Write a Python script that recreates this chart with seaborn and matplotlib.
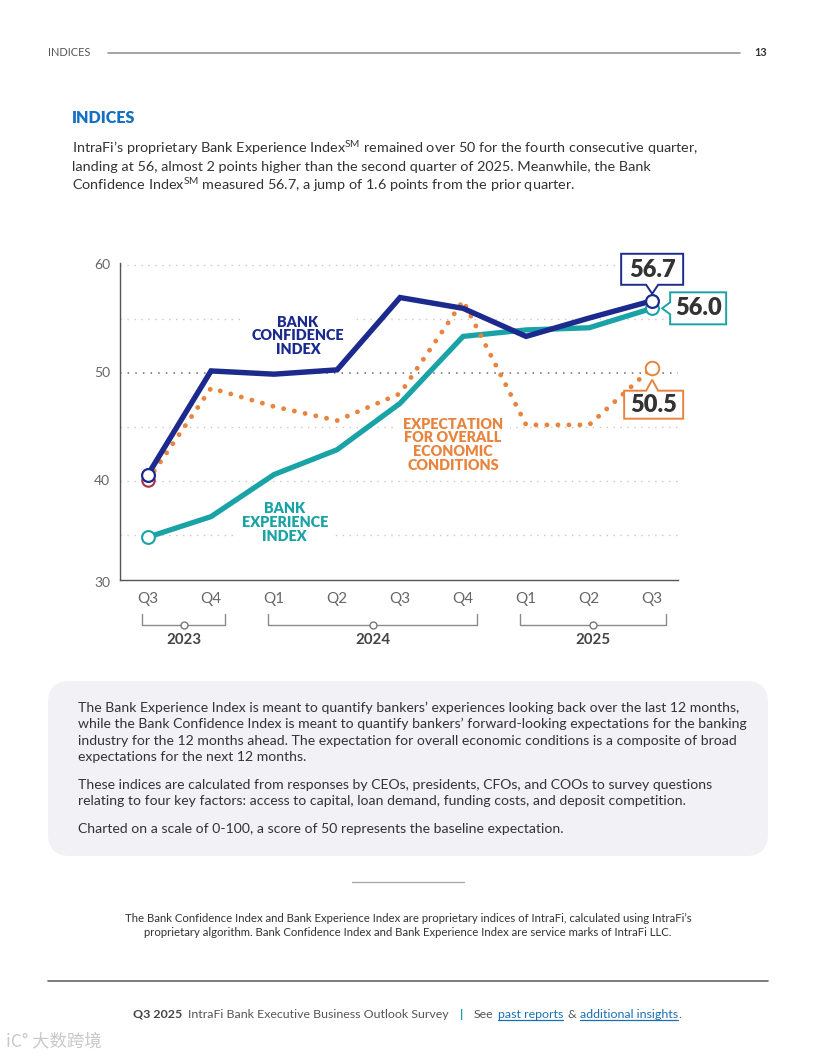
import numpy as np
import pandas as pd
import matplotlib
matplotlib.use("Agg")
import matplotlib.pyplot as plt
import seaborn as sns
from matplotlib.patches import Polygon, FancyBboxPatch
from matplotlib.transforms import IdentityTransform, blended_transform_factory

# ---------------- data ----------------
quarters = ["Q3", "Q4", "Q1", "Q2", "Q3", "Q4", "Q1", "Q2", "Q3"]
years = ["2023", "2024", "2025"]
year_first = [0, 2, 6]
year_last = [1, 5, 8]
bank_confidence = [40.6, 50.2, 49.9, 50.3, 57.0, 56.0, 53.4, 55.1, 56.7]
bank_experience = [34.8, 36.7, 40.6, 42.9, 47.2, 53.4, 54.0, 54.2, 56.0]
economic_expectation = [40.1, 48.6, 46.9, 45.6, 48.1, 56.7, 45.2, 45.2, 50.5]
y_ticks = [30, 40, 50, 60]

# ---------------- style ----------------
sns.set_theme(style="white")
FONT = ["Lato", "DejaVu Sans"]
plt.rcParams["font.family"] = FONT
plt.rcParams["mathtext.fontset"] = "custom"
plt.rcParams["mathtext.rm"] = "Lato"
plt.rcParams["mathtext.bf"] = "Lato:bold"

NAVY = "#1c2a8e"
TEAL = "#1aa3a6"
ORANGE = "#e8843e"
DARKRED = "#a8323f"
TXT = "#333333"
GRAY = "#555555"

W, H = 816, 1056
fig = plt.figure(figsize=(W / 100, H / 100), dpi=100)
fig.patch.set_facecolor("white")


def fx(px):
    return px / W


def fy(py):
    return 1 - py / H


AX_L, AX_R, AX_T, AX_B = 120, 678, 263, 580
ax = fig.add_axes([fx(AX_L), fy(AX_B), (AX_R - AX_L) / W, (AX_B - AX_T) / H])
ax.set_facecolor("white")

x = np.arange(len(quarters))
df = pd.DataFrame({"x": x, "bci": bank_confidence, "bei": bank_experience,
                   "exp": economic_expectation})

ax.set_xlim(-0.444, 8.41)
ax.set_ylim(30.83, 60.2)

# gridlines
for v in [35, 40, 45, 55, 60]:
    ax.axhline(v, color="#c9c9c9", lw=1.0, ls=(0, (1, 4)), zorder=1)
ax.axhline(50, color="#6a6a6a", lw=1.1, ls=(0, (1, 4)), zorder=1)

# lines
sns.lineplot(data=df, x="x", y="bei", ax=ax, color=TEAL, lw=3.8, zorder=3,
             solid_joinstyle="miter", solid_capstyle="butt")
sns.lineplot(data=df, x="x", y="exp", ax=ax, color=ORANGE, lw=3.5, zorder=4,
             linestyle=(0, (0.01, 2.25)), dash_capstyle="round")
sns.lineplot(data=df, x="x", y="bci", ax=ax, color=NAVY, lw=3.9, zorder=5,
             solid_joinstyle="miter", solid_capstyle="butt")

# end markers
ends = [0, len(x) - 1]
sns.scatterplot(x=[0], y=[economic_expectation[0]], ax=ax, s=80, facecolor="white",
                edgecolor=DARKRED, linewidth=1.5, zorder=6)
sns.scatterplot(x=[8], y=[economic_expectation[-1]], ax=ax, s=95, facecolor="white",
                edgecolor=ORANGE, linewidth=1.4, zorder=6)
sns.scatterplot(x=ends, y=[bank_experience[i] for i in ends], ax=ax, s=85,
                facecolor="white", edgecolor=TEAL, linewidth=1.5, zorder=6)
sns.scatterplot(x=ends, y=[bank_confidence[i] for i in ends], ax=ax, s=85,
                facecolor="white", edgecolor=NAVY, linewidth=1.6, zorder=7)

# series labels
lab_kw = dict(ha="center", va="center", fontsize=10.4, fontweight="heavy",
              linespacing=1.07, zorder=2,
              bbox=dict(boxstyle="square,pad=0.5", fc="white", ec="none"))
ax.text(2.38, 53.45, "BANK\nCONFIDENCE\nINDEX", color=NAVY, **lab_kw)
ax.text(2.17, 36.15, "BANK\nEXPERIENCE\nINDEX", color=TEAL, **lab_kw)
ax.text(4.84, 43.35, "EXPECTATION\nFOR OVERALL\nECONOMIC\nCONDITIONS", color=ORANGE, **lab_kw)

# axes styling
for s in ["top", "right"]:
    ax.spines[s].set_visible(False)
for s in ["left", "bottom"]:
    ax.spines[s].set_color("#555555")
    ax.spines[s].set_linewidth(1.0)
ax.set_xlabel("")
ax.set_ylabel("")
ax.set_yticks([])
ax.set_xticks(x, quarters)
ax.tick_params(axis="x", length=0, pad=9, labelsize=11, labelcolor="#666666")
ax.grid(False)

tr_yax = blended_transform_factory(ax.transAxes, ax.transData)
for v in y_ticks:
    yy = v if v > 30 else 30.55
    ax.text(-0.018, yy, str(v), transform=tr_yax, ha="right", va="center",
            fontsize=10, color="#666666", clip_on=False)


def ay(py):
    return (AX_B - py) / (AX_B - AX_T)


tr_br = blended_transform_factory(ax.transData, ax.transAxes)
for yr, a, b in zip(years, year_first, year_last):
    x0, x1 = a - 0.09, b + 0.22
    ax.plot([x0, x0, x1, x1], [ay(614), ay(625), ay(625), ay(614)], transform=tr_br,
            color="#8a8a8a", lw=1.0, clip_on=False)
    xm = (x0 + x1) / 2
    ax.plot([xm], [ay(625)], transform=tr_br, marker="o", ms=5, mfc="white",
            mec="#777777", mew=1.0, clip_on=False)
    ax.text(xm, ay(640), yr, transform=tr_br, ha="center", va="center",
            fontsize=10.8, fontweight="bold", color="#444444", clip_on=False)

# callouts
ident = IdentityTransform()


def callout(ix, val, color, label, pts, text_off):
    px, py = ax.transData.transform((ix, val))
    poly = [(px + dx, py - dy) for dx, dy in pts]
    fig.patches.append(Polygon(poly, closed=True, fc="white", ec=color, lw=1.4,
                               transform=ident, figure=fig, zorder=10))
    fig.text((px + text_off[0]) / W, (py - text_off[1]) / H, label, ha="center",
             va="center", fontsize=17, fontweight="heavy", color="#333333", zorder=11)


callout(8, bank_confidence[-1], NAVY, "56.7",
        [(-31, -47), (31, -47), (31, -16), (6, -16), (0, -7), (-6, -16), (-31, -16)],
        (0, -31))
callout(8, bank_experience[-1], TEAL, "56.0",
        [(18, -16), (74, -16), (74, 16), (18, 16), (18, 6), (10, 0), (18, -6)],
        (46, 0))
callout(8, economic_expectation[-1], ORANGE, "50.5",
        [(-28, 23), (-6, 23), (0, 12), (6, 23), (31, 23), (31, 51), (-28, 51)],
        (1.5, 37))

# ---------------- page text ----------------
fig.text(fx(48), fy(53), "INDICES", fontsize=7.9, color="#555555", va="center")
fig.add_artist(plt.Line2D([fx(108), fx(740)], [fy(53), fy(53)], color="#8a8a8a", lw=1.1))
fig.text(fx(767), fy(53), "13", fontsize=7.8, fontweight="bold", color="#333333",
         va="center", ha="right")

fig.text(fx(72), fy(118), "INDICES", fontsize=11.6, fontweight="heavy", color="#1570c4",
         va="center")

para = [
    "IntraFi\u2019s proprietary Bank Experience Index$^{\\mathrm{SM}}$ remained over 50 for the fourth consecutive quarter,",
    "landing at 56, almost 2 points higher than the second quarter of 2025. Meanwhile, the Bank",
    "Confidence Index$^{\\mathrm{SM}}$ measured 56.7, a jump of 1.6 points from the prior quarter.",
]
for t, yy in zip(para, [148, 167, 185]):
    fig.text(fx(72), fy(yy), t, fontsize=10.4, color=TXT, va="center")

# grey info box
fig.patches.append(FancyBboxPatch((48, H - 856), 720, 175,
                                  boxstyle="round,pad=0,rounding_size=22",
                                  fc="#f1f1f6", ec="none", transform=ident, figure=fig,
                                  zorder=0))
box_lines = [
    ("The Bank Experience Index is meant to quantify bankers\u2019 experiences looking back over the last 12 months,", 708),
    ("while the Bank Confidence Index is meant to quantify bankers\u2019 forward-looking expectations for the banking", 724),
    ("industry for the 12 months ahead. The expectation for overall economic conditions is a composite of broad", 741),
    ("expectations for the next 12 months.", 757),
    ("These indices are calculated from responses by CEOs, presidents, CFOs, and COOs to survey questions", 785),
    ("relating to four key factors: access to capital, loan demand, funding costs, and deposit competition.", 801),
    ("Charted on a scale of 0-100, a score of 50 represents the baseline expectation.", 829),
]
for t, yy in box_lines:
    fig.text(fx(78), fy(yy), t, fontsize=10.1, color=TXT, va="center", zorder=2)

fig.add_artist(plt.Line2D([fx(352), fx(464)], [fy(882), fy(882)], color="#aaaaaa", lw=1.0))
fig.text(fx(408), fy(919),
         "The Bank Confidence Index and Bank Experience Index are proprietary indices of IntraFi, calculated using IntraFi\u2019s",
         fontsize=8.2, color=TXT, ha="center", va="center")
fig.text(fx(408), fy(933),
         "proprietary algorithm. Bank Confidence Index and Bank Experience Index are service marks of IntraFi LLC.",
         fontsize=8.2, color=TXT, ha="center", va="center")
fig.add_artist(plt.Line2D([fx(48), fx(768)], [fy(981), fy(981)], color="#666666", lw=1.2))

# footer with mixed styles
renderer = fig.canvas.get_renderer()
LINK = "#1a6fb4"
pieces = [
    ("Q3 2025", dict(fontweight="bold", color="#444444"), 6, False),
    ("IntraFi Bank Executive Business Outlook Survey", dict(color="#555555"), 11, False),
    ("|", dict(color=TEAL, fontweight="bold"), 11, False),
    ("See", dict(color="#555555"), 4, False),
    ("past reports", dict(color=LINK), 4, False),
    ("&", dict(color="#555555"), 4, False),
    ("additional insights", dict(color=LINK), 0.5, False),
    (".", dict(color="#555555"), 0, False),
]
xp = 133
for i, (s, kw, gap, _) in enumerate(pieces):
    t = fig.text(fx(xp), fy(1014), s, fontsize=8.9, va="center", ha="left", **kw)
    bb = t.get_window_extent(renderer)
    if s in ("past reports", "additional insights"):
        fig.add_artist(plt.Line2D([bb.x0 / W, bb.x1 / W], [fy(1020), fy(1020)],
                                  color=LINK, lw=0.9))
    xp += bb.width + gap

# watermark
fig.text(fx(6), fy(1041), "iC\u00b0 \u5927\u6570\u8de8\u5883", fontsize=12.5, color="#c8c8c8",
         family=["Noto Sans CJK SC", "DejaVu Sans"], va="center")

fig.savefig("out.png", dpi=100, facecolor="white")
